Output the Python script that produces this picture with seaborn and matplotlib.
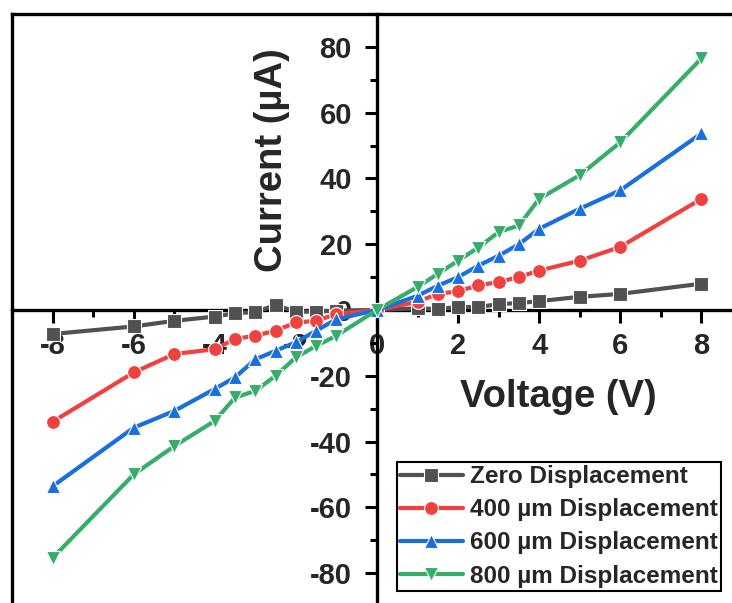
import matplotlib
matplotlib.use("Agg")
import matplotlib.pyplot as plt
from matplotlib.ticker import MultipleLocator
import seaborn as sns
import pandas as pd

voltage = [-8, -6, -5, -4, -3.5, -3, -2.5, -2, -1.5, -1, 0,
           1, 1.5, 2, 2.5, 3, 3.5, 4, 5, 6, 8]
zero_disp = [-7.3, -5.0, -3.3, -2.0, -1.0, -0.6, 1.5, -0.5, -0.5, -0.2, 0,
             0.5, 0.3, 0.9, 0.9, 1.8, 2.1, 2.7, 4.0, 4.9, 8.0]
disp_400 = [-34, -19, -13.4, -11.9, -8.8, -7.8, -6.3, -3.8, -3.3, -1.2, 0,
            2.5, 4.9, 5.7, 7.5, 8.5, 10, 12, 15, 19.2, 33.8]
disp_600 = [-53.6, -35.8, -30.7, -24, -20.5, -15, -12.4, -9.8, -6.3, -2.8, 0,
            4.3, 7.4, 10, 13.5, 16.5, 20, 24.7, 30.8, 36.4, 53.7]
disp_800 = [-75.4, -50, -41.4, -33.7, -26.6, -24.6, -20, -14.4, -10.9, -7.8, 0,
            7, 11, 15, 19, 23.7, 25.7, 33.8, 41, 51, 76.5]
series_names = ["Zero Displacement", "400 µm Displacement",
                "600 µm Displacement", "800 µm Displacement"]
x_ticks = [-8, -6, -4, -2, 0, 2, 4, 6, 8]
y_ticks = [-80, -60, -40, -20, 0, 20, 40, 60, 80]

colors = ["#515151", "#F14040", "#1A6FDF", "#37AD6B"]
markers = ["s", "o", "^", "v"]

rows = []
for name, vals in zip(series_names, [zero_disp, disp_400, disp_600, disp_800]):
    for v, c in zip(voltage, vals):
        rows.append({"Voltage": v, "Current": c, "Series": name})
df = pd.DataFrame(rows)

sns.set_style("white")
plt.rcParams["font.family"] = ["Liberation Sans", "DejaVu Sans"]
plt.rcParams["font.weight"] = "bold"
plt.rcParams["axes.unicode_minus"] = False

fig = plt.figure(figsize=(7.32, 6.03), dpi=100)
pos = [12 / 732, -3 / 603, 730 / 732, 592 / 603]

# outer frame
frame = fig.add_axes(pos, zorder=0)
frame.set_xticks([])
frame.set_yticks([])
frame.set_facecolor("white")
for s in frame.spines.values():
    s.set_visible(True)
    s.set_linewidth(2.4)
    s.set_color("black")

ax = fig.add_axes(pos, zorder=1)
ax.patch.set_alpha(0)

sns.lineplot(data=df, x="Voltage", y="Current", hue="Series", style="Series",
             hue_order=series_names, style_order=series_names,
             palette=colors, markers=markers, dashes=False, estimator=None,
             sort=False, linewidth=3.0, markersize=10, markeredgewidth=0.8,
             ax=ax, zorder=3)

ax.set_xlim(-9, 9)
ax.set_ylim(-90, 90)
ax.spines["left"].set_position(("data", 0))
ax.spines["bottom"].set_position(("data", 0))
ax.spines["top"].set_visible(False)
ax.spines["right"].set_visible(False)
for k in ("left", "bottom"):
    ax.spines[k].set_linewidth(2.4)
    ax.spines[k].set_color("black")
    ax.spines[k].set_visible(True)

ax.set_xticks(x_ticks)
ax.set_yticks(y_ticks)
ax.xaxis.set_minor_locator(MultipleLocator(1))
ax.yaxis.set_minor_locator(MultipleLocator(10))
ax.tick_params(axis="x", which="major", direction="out", length=9, width=2.2,
               labelsize=21, pad=7, color="black", bottom=True)
ax.tick_params(axis="y", which="major", direction="out", length=9, width=2.2,
               labelsize=21, pad=9, color="black", left=True)
ax.tick_params(axis="both", which="minor", direction="out", length=5,
               width=2.2, color="black")
ax.tick_params(which="both", bottom=True, left=True)
for lbl in ax.get_xticklabels() + ax.get_yticklabels():
    lbl.set_fontweight("bold")

ax.set_xlabel("Voltage (V)", fontsize=27.5, fontweight="bold")
ax.set_ylabel("Current (µA)", fontsize=27.5, fontweight="bold")
ax.xaxis.set_label_coords(0.748, 0.353)
ax.xaxis.label.set(ha="center", va="center")
ax.yaxis.set_label_coords(0.356, 0.753)
ax.yaxis.label.set(ha="center", va="center", rotation_mode="default")

handles, labels = ax.get_legend_handles_labels()
leg = ax.legend(handles, labels, loc="upper left", bbox_to_anchor=(0.527, 0.243),
                frameon=True, fancybox=False, edgecolor="black",
                prop={"size": 17.5, "weight": "bold"},
                handlelength=2.6, handletextpad=0.3, labelspacing=0.42,
                borderpad=0.12, borderaxespad=0)
leg.get_frame().set_linewidth(1.5)
leg.get_frame().set_alpha(1)
leg.set_zorder(5)

fig.savefig("out.png", dpi=100)
